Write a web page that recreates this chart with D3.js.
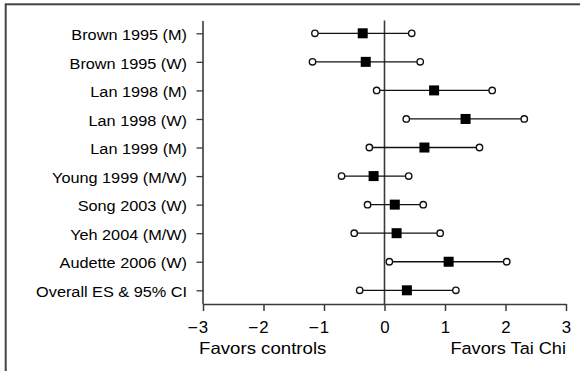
<!DOCTYPE html>
<html><head><meta charset="utf-8">
<script src="https://cdn.jsdelivr.net/npm/d3@7"></script>
<style>
html,body{margin:0;padding:0;background:#fff;}
svg{display:block;}
svg text{font-family:"Liberation Sans",Arial,Helvetica,sans-serif;}
</style></head>
<body>
<svg id="chart" width="580" height="371"></svg>
<script>
const studies = ["Brown 1995 (M)","Brown 1995 (W)","Lan 1998 (M)","Lan 1998 (W)","Lan 1999 (M)","Young 1999 (M/W)","Song 2003 (W)","Yeh 2004 (M/W)","Audette 2006 (W)","Overall ES & 95% CI"];
const effect = [-0.36,-0.31,0.82,1.34,0.66,-0.18,0.17,0.20,1.06,0.37];
const lower  = [-1.15,-1.19,-0.13,0.36,-0.25,-0.71,-0.28,-0.50,0.08,-0.41];
const upper  = [0.45,0.59,1.78,2.31,1.57,0.40,0.64,0.92,2.02,1.18];
const xTicks = [-3,-2,-1,0,1,2,3];
const leftLabel = "Favors controls";
const rightLabel = "Favors Tai Chi";

const FONT = '"Liberation Sans", Arial, Helvetica, sans-serif';
const svg = d3.select("#chart");
const axisY = 304, plotTop = 21;
const x = d3.scaleLinear().domain([-3,3]).range([203,566]);
const y = d3.scalePoint().domain(studies).range([33.3,290.3]);
const axisColor = "#3a3a3a";

// frame
svg.append("rect").attr("x",5.7).attr("y",4.3).attr("width",700).attr("height",500)
  .attr("fill","none").attr("stroke","#444").attr("stroke-width",2);

// y axis
const gy = svg.append("g").attr("transform",`translate(${x.range()[0]},0)`)
  .call(d3.axisLeft(y).tickSize(6.5).tickSizeOuter(0).tickPadding(3))
  .attr("font-family",FONT);
gy.select(".domain").remove();
gy.append("line").attr("x1",0).attr("x2",0).attr("y1",plotTop).attr("y2",axisY)
  .attr("stroke",axisColor).attr("stroke-width",1.6);
gy.selectAll(".tick line").attr("stroke",axisColor).attr("stroke-width",1.3);
gy.selectAll(".tick text").attr("x",0).attr("dy","0.4em")
  .attr("transform","translate(-16,0) scale(1.05,1)")
  .attr("font-size","15.5px").attr("fill","#000");

// x axis
const gx = svg.append("g").attr("transform",`translate(0,${axisY})`)
  .call(d3.axisBottom(x).tickValues(xTicks).tickSize(7).tickSizeOuter(0).tickFormat(d=>Math.abs(d)))
  .attr("font-family",FONT);
gx.select(".domain").attr("stroke",axisColor).attr("stroke-width",1.6);
gx.selectAll(".tick line").attr("stroke",axisColor).attr("stroke-width",1.5);
gx.selectAll(".tick text").attr("y",29).attr("dy",0)
  .attr("transform","scale(1.05,1)")
  .attr("font-size","16px").attr("fill","#000");
gx.selectAll(".tick").filter(d=>d<0).append("text")
  .attr("x",-5.2).attr("y",29).attr("text-anchor","end")
  .attr("transform","scale(1.1,1)")
  .attr("font-size","16px").attr("fill","#000").text("\u2212");

// axis labels
svg.append("text").attr("transform",`translate(${x(-3)-4},353.5) scale(1.13,1)`)
  .attr("text-anchor","start").attr("font-size","16.5px").attr("fill","#000").text(leftLabel);
svg.append("text").attr("transform",`translate(${x(3)},353.5) scale(1.1,1)`)
  .attr("text-anchor","end").attr("font-size","16.5px").attr("fill","#000").text(rightLabel);

// zero line
svg.append("line").attr("x1",x(0)).attr("x2",x(0)).attr("y1",plotTop-0.5).attr("y2",axisY)
  .attr("stroke",axisColor).attr("stroke-width",1.6);

// CI marks
const rows = studies.map((s,i)=>({s, e:effect[i], lo:lower[i], hi:upper[i]}));
const g = svg.append("g");
g.selectAll("line.ci").data(rows).join("line").attr("class","ci")
  .attr("x1",d=>x(d.lo)).attr("x2",d=>x(d.hi))
  .attr("y1",d=>y(d.s)).attr("y2",d=>y(d.s))
  .attr("stroke","#111").attr("stroke-width",1.3);
const ends = rows.flatMap(d=>[{s:d.s,v:d.lo},{s:d.s,v:d.hi}]);
g.selectAll("circle").data(ends).join("circle")
  .attr("cx",d=>x(d.v)).attr("cy",d=>y(d.s)).attr("r",3.2)
  .attr("fill","#fff").attr("stroke","#111").attr("stroke-width",1.4);
const sq = 10;
g.selectAll("rect.es").data(rows).join("rect").attr("class","es")
  .attr("x",d=>x(d.e)-sq/2).attr("y",d=>y(d.s)-sq/2)
  .attr("width",sq).attr("height",sq).attr("fill","#000");
</script>
</body></html>
